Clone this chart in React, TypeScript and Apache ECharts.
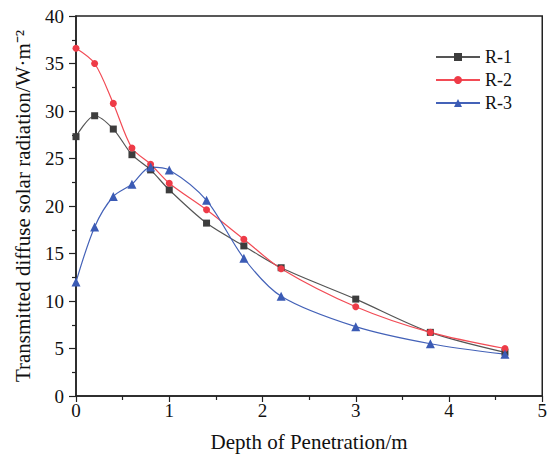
import React, { useEffect, useRef } from "react";
import * as echarts from "echarts";

const depths = [0, 0.2, 0.4, 0.6, 0.8, 1.0, 1.4, 1.8, 2.2, 3.0, 3.8, 4.6];
const r1 = [27.3, 29.5, 28.1, 25.4, 23.8, 21.7, 18.2, 15.8, 13.5, 10.2, 6.7, 4.6];
const r2 = [36.6, 35.0, 30.8, 26.1, 24.4, 22.4, 19.6, 16.5, 13.4, 9.4, 6.7, 5.0];
const r3 = [12.0, 17.8, 21.0, 22.3, 24.1, 23.8, 20.6, 14.5, 10.5, 7.3, 5.5, 4.4];
const seriesNames = ["R-1", "R-2", "R-3"];

const font = "Liberation Serif";

export default function App() {
  const ref = useRef<HTMLDivElement>(null);
  useEffect(() => {
    if (!ref.current) return;
    const chart = echarts.init(ref.current, undefined, { renderer: "svg" });
    const mk = (vals: number[]) => depths.map((d, i) => [d, vals[i]]);
    const axisColor = "#222";
    chart.setOption({
      animation: false,
      backgroundColor: "#fff",
      grid: {
        left: 76,
        right: 5,
        top: 16,
        bottom: 63,
        show: true,
        borderColor: axisColor,
        borderWidth: 1.5,
      },
      legend: {
        orient: "vertical",
        left: 430,
        top: 43,
        itemWidth: 44,
        itemHeight: 10,
        itemGap: 5,
        textStyle: { fontFamily: font, fontSize: 18, color: "#111" },
        data: seriesNames,
      },
      xAxis: {
        type: "value",
        min: 0,
        max: 5,
        interval: 1,
        name: "Depth of Penetration/m",
        nameLocation: "middle",
        nameGap: 35,
        nameTextStyle: { fontFamily: font, fontSize: 21, color: "#111" },
        axisLine: { show: true, lineStyle: { color: axisColor, width: 1.5 } },
        axisTick: { show: true, length: 6, lineStyle: { color: axisColor, width: 1.2 } },
        minorTick: { show: true, splitNumber: 2, length: 4, lineStyle: { color: axisColor, width: 1.2 } },
        splitLine: { show: false },
        axisLabel: { fontFamily: font, fontSize: 19, color: "#111", margin: 5 },
      },
      yAxis: {
        type: "value",
        min: 0,
        max: 40,
        interval: 5,
        name: "Transmitted diffuse solar radiation/W·m⁻²",
        nameLocation: "middle",
        nameGap: 43,
        nameTextStyle: { fontFamily: font, fontSize: 21, color: "#111" },
        axisLine: { show: true, lineStyle: { color: axisColor, width: 1.5 } },
        axisTick: { show: true, length: 7, lineStyle: { color: axisColor, width: 1.2 } },
        minorTick: { show: true, splitNumber: 2, length: 4, lineStyle: { color: axisColor, width: 1.2 } },
        splitLine: { show: false },
        axisLabel: { fontFamily: font, fontSize: 19, color: "#111", margin: 12 },
      },
      series: [
        {
          name: "R-1",
          type: "line",
          data: mk(r1),
          smooth: 0.3,
          symbol: "rect",
          symbolSize: 7,
          lineStyle: { color: "#555", width: 1.2 },
          itemStyle: { color: "#3d3d3d" },
        },
        {
          name: "R-2",
          type: "line",
          data: mk(r2),
          smooth: 0.3,
          symbol: "circle",
          symbolSize: 7,
          lineStyle: { color: "#f24b55", width: 1.2 },
          itemStyle: { color: "#ee3b47" },
        },
        {
          name: "R-3",
          type: "line",
          data: mk(r3),
          smooth: 0.3,
          symbol: "triangle",
          symbolSize: 9,
          lineStyle: { color: "#4462b8", width: 1.2 },
          itemStyle: { color: "#3b5bb5" },
        },
      ],
    });
    return () => chart.dispose();
  }, []);
  return <div ref={ref} style={{ width: 550, height: 459, position: "absolute", left: 0, top: 0 }} />;
}
